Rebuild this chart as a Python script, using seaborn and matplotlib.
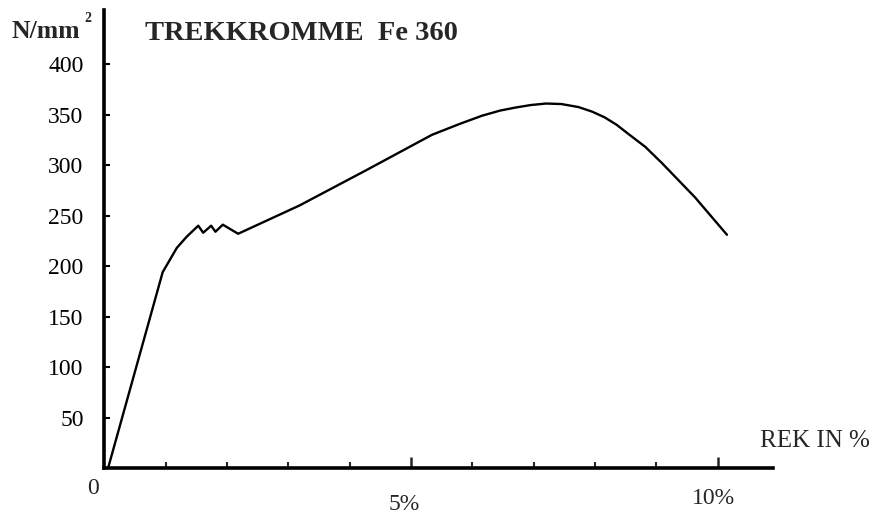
import seaborn as sns
import matplotlib.pyplot as plt
import pandas as pd

# Tensile test curve for Fe 360
strain = [0.06, 0.95, 1.18, 1.34, 1.53, 1.61, 1.74, 1.81, 1.93, 2.18,
          3.18, 4.27, 5.34, 5.80, 6.16, 6.45, 6.70, 6.95, 7.20, 7.45,
          7.73, 7.95, 8.15, 8.35, 8.54, 8.82, 9.09, 9.36, 9.63, 10.15]
stress = [0, 194, 218, 229, 240, 233, 240, 234, 241, 232,
          260, 295, 330, 341, 349, 354, 357, 359.5, 361, 360.5,
          357.5, 353, 347.5, 340, 331, 318, 302, 285, 268, 231]

y_ticks = [50, 100, 150, 200, 250, 300, 350, 400]
x_major = [5, 10]
x_minor = [1, 2, 3, 4, 6, 7, 8, 9]

sns.set_style('white')
plt.rcParams['font.family'] = ['Liberation Serif', 'DejaVu Serif']

df = pd.DataFrame({'strain': strain, 'stress': stress})

fig = plt.figure(figsize=(8.85, 5.15), dpi=100)
ax = fig.add_axes([0.118, 0.0913, 0.7554, 0.889])
sns.lineplot(data=df, x='strain', y='stress', sort=False, estimator=None,
             color='black', linewidth=1.7, ax=ax)

ax.set_xlim(0, 10.9)
ax.set_ylim(0, 453.5)
ax.set_xlabel('')
ax.set_ylabel('')

for side in ['top', 'right']:
    ax.spines[side].set_visible(False)
for side in ['left', 'bottom']:
    ax.spines[side].set_linewidth(2.6)
    ax.spines[side].set_color('black')

ax.set_yticks(y_ticks)
ax.set_yticklabels([str(v) for v in y_ticks], fontsize=17)
ax.tick_params(axis='y', direction='in', length=4, width=1.5, pad=15,
               left=True, colors='black')
ax.set_xticks(x_major)
ax.set_xticks(x_minor, minor=True)
ax.set_xticklabels([])
ax.tick_params(axis='x', which='major', direction='in', length=8, width=1.8,
               bottom=True)
ax.tick_params(axis='x', which='minor', direction='in', length=4, width=1.5,
               bottom=True)

# text placed around the axes like in the original drawing
fig.text(12 / 885, 1 - 31 / 515, 'N/mm', fontsize=18.5,
         fontweight='bold', ha='left', va='center')
fig.text(88 / 885, 1 - 19 / 515, '2', fontsize=10,
         fontweight='bold', ha='center', va='center')
fig.text(145 / 885, 1 - 33 / 515, 'TREKKROMME  Fe 360', fontsize=20.5,
         fontweight='bold', ha='left', va='center')
fig.text(760 / 885, 1 - 441 / 515, 'REK IN %', fontsize=18,
         ha='left', va='center')
fig.text(93 / 885, 1 - 488 / 515, '0', fontsize=17, ha='center', va='center')
fig.text(404 / 885, 1 - 504 / 515, '5%', fontsize=17, ha='center', va='center')
fig.text(713 / 885, 1 - 499 / 515, '10%', fontsize=17, ha='center', va='center')

fig.savefig('out.png', dpi=100)
